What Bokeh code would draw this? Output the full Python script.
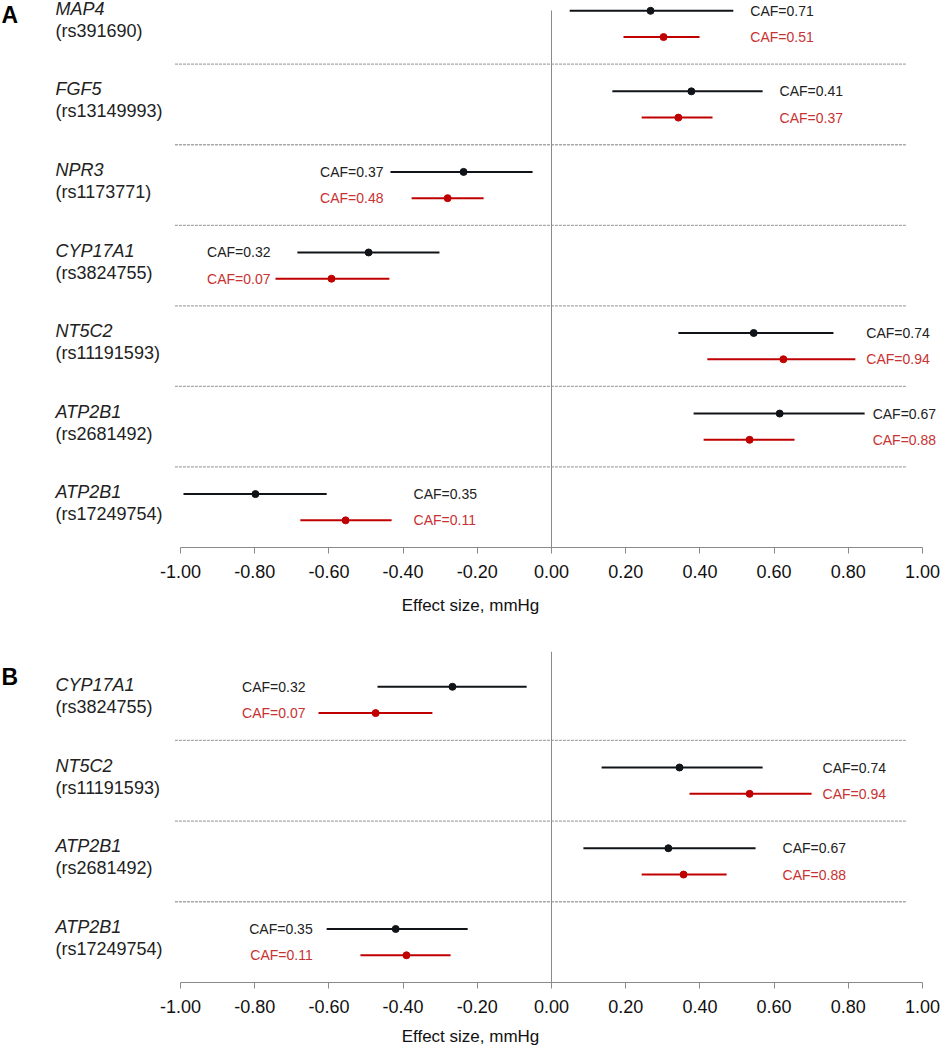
from bokeh.plotting import figure
from bokeh.models import FixedTicker, NumeralTickFormatter, Range1d
from bokeh.layouts import column
from bokeh.embed import file_html
from bokeh.resources import INLINE
from bokeh.core.properties import value

# ---------------- data ----------------
tick_values = [-1.0, -0.8, -0.6, -0.4, -0.2, 0.0, 0.2, 0.4, 0.6, 0.8, 1.0]
axis_title = "Effect size, mmHg"

# Panel A
genes_a = ["MAP4", "FGF5", "NPR3", "CYP17A1", "NT5C2", "ATP2B1", "ATP2B1"]
snps_a = ["(rs391690)", "(rs13149993)", "(rs1173771)", "(rs3824755)",
          "(rs11191593)", "(rs2681492)", "(rs17249754)"]
black_est_a = [0.267, 0.377, -0.237, -0.493, 0.545, 0.615, -0.798]
black_lo_a = [0.049, 0.164, -0.434, -0.685, 0.342, 0.383, -0.992]
black_hi_a = [0.490, 0.569, -0.051, -0.302, 0.760, 0.844, -0.606]
red_est_a = [0.302, 0.342, -0.280, -0.593, 0.625, 0.534, -0.555]
red_lo_a = [0.194, 0.243, -0.377, -0.744, 0.420, 0.410, -0.677]
red_hi_a = [0.399, 0.434, -0.183, -0.437, 0.819, 0.655, -0.431]
caf_black_a = ["0.71", "0.41", "0.37", "0.32", "0.74", "0.67", "0.35"]
caf_red_a = ["0.51", "0.37", "0.48", "0.07", "0.94", "0.88", "0.11"]

# Panel B
genes_b = ["CYP17A1", "NT5C2", "ATP2B1", "ATP2B1"]
snps_b = ["(rs3824755)", "(rs11191593)", "(rs2681492)", "(rs17249754)"]
black_est_b = [-0.267, 0.345, 0.315, -0.420]
black_lo_b = [-0.469, 0.135, 0.086, -0.606]
black_hi_b = [-0.067, 0.569, 0.550, -0.226]
red_est_b = [-0.474, 0.534, 0.356, -0.391]
red_lo_b = [-0.628, 0.372, 0.243, -0.515]
red_hi_b = [-0.321, 0.701, 0.472, -0.272]
caf_black_b = ["0.32", "0.74", "0.67", "0.35"]
caf_red_b = ["0.07", "0.94", "0.88", "0.11"]

# ---------------- layout / style (not data) ----------------
FONT = value("Liberation Sans")
BLACK = "#101418"
RED = "#c00000"
RED_TXT = "#c83232"
TXT = "#222222"
WIDTH = 940
X_START, X_END = -1.4852, 1.0485
side_a = ["right", "right", "left", "left", "right", "right", "right"]
gap_a = [17, 17, 7, 5, 11, 8, 22]
side_b = ["left", "right", "right", "left"]
gap_b = [13, 11, 27, 14]


def make_panel(letter, genes, snps, b_est, b_lo, b_hi, r_est, r_lo, r_hi,
               caf_b, caf_r, sides, gaps, height, bottom, top_pad, line_top,
               letter_off, label_standoff, title_standoff):
    n = len(genes)
    p = figure(width=WIDTH, height=height, output_backend="svg", toolbar_location=None,
               x_range=Range1d(X_START, X_END), y_range=Range1d(-0.5, n - 1 + top_pad),
               y_axis_location=None, min_border_left=0, min_border_right=0,
               min_border_top=0, min_border_bottom=bottom)
    p.outline_line_color = None
    p.xgrid.visible = False
    p.ygrid.visible = False

    yc = [n - 1 - i for i in range(n)]
    yb = [y + 0.163 for y in yc]
    yr = [y - 0.163 for y in yc]

    # separators
    seps = [k + 0.5 for k in range(n - 1)]
    p.segment(x0=[-1.015] * len(seps), x1=[0.955] * len(seps), y0=seps, y1=seps,
              line_color="#a8a8a8", line_width=1.3, line_dash="3 1")
    # zero reference line
    p.segment(x0=[0], x1=[0], y0=[-0.5], y1=[n - 1 + line_top],
              line_color="#8a8a8a", line_width=1)

    # intervals and points
    p.segment(x0=b_lo, x1=b_hi, y0=yb, y1=yb, line_color=BLACK, line_width=2)
    p.segment(x0=r_lo, x1=r_hi, y0=yr, y1=yr, line_color=RED, line_width=2)
    p.scatter(x=b_est, y=yb, size=7, color=BLACK)
    p.scatter(x=r_est, y=yr, size=7, color=RED)

    # CAF labels
    for i in range(n):
        if sides[i] == "right":
            ax = max(b_hi[i], r_hi[i])
            align, off = "left", gaps[i]
        else:
            ax = min(b_lo[i], r_lo[i])
            align, off = "right", -gaps[i]
        p.text(x=[ax], y=[yb[i]], text=["CAF=" + caf_b[i]], x_offset=off,
               text_align=align, text_baseline="middle", text_font=FONT,
               text_font_size="14px", text_color=TXT)
        p.text(x=[ax], y=[yr[i]], text=["CAF=" + caf_r[i]], x_offset=off,
               text_align=align, text_baseline="middle", text_font=FONT,
               text_font_size="14px", text_color=RED_TXT)

    # gene labels
    p.text(x=[X_START] * n, y=yc, text=genes, x_offset=55, y_offset=-15,
           text_align="left", text_baseline="middle", text_font=FONT,
           text_font_size="18px", text_font_style="italic", text_color=TXT)
    p.text(x=[X_START] * n, y=yc, text=snps, x_offset=55, y_offset=7,
           text_align="left", text_baseline="middle", text_font=FONT,
           text_font_size="18px", text_color=TXT)

    # panel letter
    p.text(x=[X_START], y=[n - 1 + top_pad], text=[letter], x_offset=1,
           y_offset=letter_off,
           text_align="left", text_baseline="top", text_font=FONT,
           text_font_size="23px", text_font_style="bold", text_color="#000000")

    ax = p.xaxis[0]
    ax.ticker = FixedTicker(ticks=tick_values)
    ax.formatter = NumeralTickFormatter(format="0.00")
    ax.bounds = (-1, 1)
    ax.axis_line_color = "#8a8a8a"
    ax.major_tick_line_color = "#8a8a8a"
    ax.major_tick_out = 6
    ax.major_tick_in = 0
    ax.minor_tick_line_color = None
    ax.major_label_standoff = label_standoff
    ax.major_label_text_font = "Liberation Sans"
    ax.major_label_text_font_size = "18px"
    ax.major_label_text_color = "#111111"
    ax.axis_label = axis_title
    ax.axis_label_standoff = title_standoff
    ax.axis_label_text_font = "Liberation Sans"
    ax.axis_label_text_font_size = "17px"
    ax.axis_label_text_font_style = "normal"
    ax.axis_label_text_color = "#111111"
    return p


pA = make_panel("A", genes_a, snps_a, black_est_a, black_lo_a, black_hi_a,
                red_est_a, red_lo_a, red_hi_a, caf_black_a, caf_red_a,
                side_a, gap_a, height=651, bottom=104, top_pad=0.291, line_top=0.167,
                letter_off=1, label_standoff=11, title_standoff=15)
pB = make_panel("B", genes_b, snps_b, black_est_b, black_lo_b, black_hi_b,
                red_est_b, red_lo_b, red_hi_b, caf_black_b, caf_red_b,
                side_b, gap_b, height=397, bottom=66, top_pad=0.6, line_top=0.6,
                letter_off=12, label_standoff=11, title_standoff=11)

layout = column(pA, pB, spacing=0)
open("out.html", "w").write(file_html(layout, INLINE))
